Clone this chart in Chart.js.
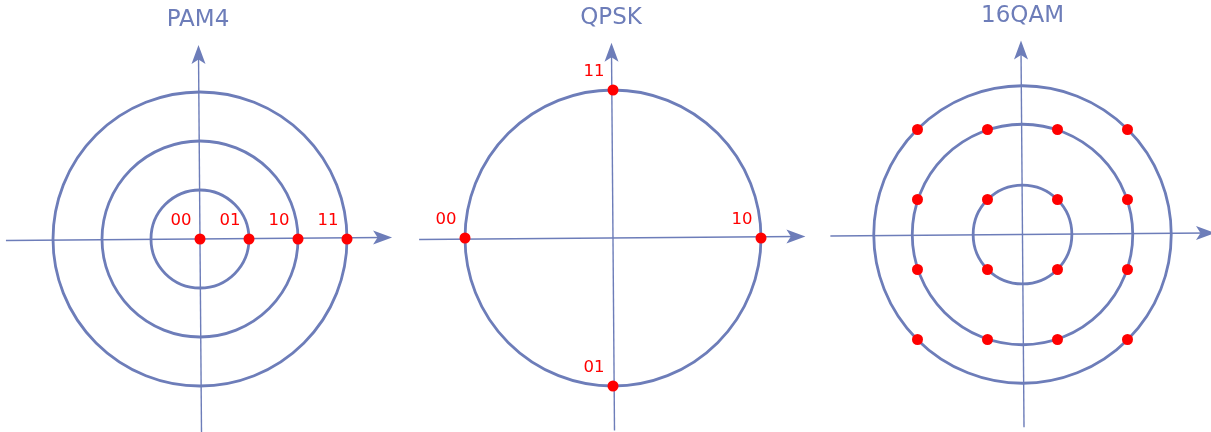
<!DOCTYPE html>
<html>
<head>
<meta charset="utf-8">
<script src="https://cdn.jsdelivr.net/npm/chart.js@4.4.1/dist/chart.umd.min.js"></script>
<style>
  html, body { margin: 0; padding: 0; background: #ffffff; }
  #wrap { position: relative; width: 1211px; height: 432px; overflow: hidden; }
  canvas { position: absolute; top: 0; }
</style>
</head>
<body>
<div id="wrap">
  <canvas id="c1" width="410" height="432" style="left:0px"></canvas>
  <canvas id="c2" width="405" height="432" style="left:410px"></canvas>
  <canvas id="c3" width="396" height="432" style="left:815px"></canvas>
</div>
<script>
// ---------------- DATA ----------------
const titles = ['PAM4', 'QPSK', '16QAM'];

// PAM4: four amplitude levels on the in-phase axis
const pam4I = [0, 1, 2, 3];
const pam4Q = [0, 0, 0, 0];
const pam4Labels = ['00', '01', '10', '11'];
const pam4Rings = [1, 2, 3];

// QPSK: four phases on the unit circle
const qpskI = [-1, 1, 0, 0];
const qpskQ = [0, 0, 1, -1];
const qpskLabels = ['00', '10', '11', '01'];
const qpskRings = [1];

// 16QAM: 4x4 grid of levels
const qamLevelsI = [-3, -1, 1, 3];
const qamLevelsQ = [3, 1, -1, -3];
const qamRings = [1.41, 3.15, 4.25];

// ---------------- STYLE ----------------
const BLUE = '#6d7db9';
const RED = '#ff0000';

function gridPoints(levI, levQ) {
  const pts = [];
  levQ.forEach(q => levI.forEach(i => pts.push({ x: i, y: q })));
  return pts;
}
function zipPoints(xs, ys) { return xs.map((x, k) => ({ x: x, y: ys[k] })); }

function drawArrowHead(ctx, x, y, dir) {
  const len = 19, half = 7, notch = 4.5;
  ctx.save();
  ctx.translate(x, y);
  if (dir === 'up') ctx.rotate(-Math.PI / 2);
  ctx.beginPath();
  ctx.moveTo(0, 0);
  ctx.lineTo(-len, -half);
  ctx.lineTo(-len + notch, 0);
  ctx.lineTo(-len, half);
  ctx.closePath();
  ctx.fillStyle = BLUE;
  ctx.fill();
  ctx.restore();
}

const diagramPlugin = {
  id: 'diagram',
  beforeDatasetsDraw(chart) {
    const o = chart.options.plugins.diagram;
    const ctx = chart.ctx;
    const xs = chart.scales.x, ys = chart.scales.y;
    const cx = xs.getPixelForValue(0), cy = ys.getPixelForValue(0);
    ctx.save();
    ctx.strokeStyle = BLUE;
    ctx.lineWidth = 2.8;
    o.rings.forEach(r => {
      const rp = xs.getPixelForValue(r) - cx;
      ctx.beginPath();
      ctx.arc(cx, cy, rp, 0, Math.PI * 2);
      ctx.stroke();
    });
    ctx.lineWidth = 1.4;
    const x0 = xs.getPixelForValue(o.axisX[0]), x1 = xs.getPixelForValue(o.axisX[1]);
    const y0 = ys.getPixelForValue(o.axisY[0]), y1 = ys.getPixelForValue(o.axisY[1]);
    ctx.beginPath();
    ctx.moveTo(x0, cy + o.tilt);
    ctx.lineTo(x1 - 8, cy - o.tilt);
    ctx.stroke();
    drawArrowHead(ctx, x1, cy - o.tilt, 'right');
    ctx.beginPath();
    ctx.moveTo(cx + o.tilt, y0);
    ctx.lineTo(cx - o.tilt, y1 + 8);
    ctx.stroke();
    drawArrowHead(ctx, cx - o.tilt, y1, 'up');
    ctx.restore();
  },
  afterDatasetsDraw(chart) {
    const o = chart.options.plugins.diagram;
    const ctx = chart.ctx;
    const xs = chart.scales.x, ys = chart.scales.y;
    ctx.save();
    ctx.fillStyle = RED;
    ctx.font = '16.5px "DejaVu Sans"';
    ctx.textAlign = 'center';
    ctx.textBaseline = 'middle';
    const data = chart.data.datasets[0].data;
    (o.labels || []).forEach((t, k) => {
      const px = xs.getPixelForValue(data[k].x), py = ys.getPixelForValue(data[k].y);
      ctx.fillText(t, px - 19, py - 18);
    });
    ctx.fillStyle = BLUE;
    ctx.font = '23px "DejaVu Sans"';
    ctx.fillText(o.title, xs.getPixelForValue(0) + o.titleDx, o.titleY);
    ctx.restore();
  }
};

function makeChart(id, cfg) {
  const cv = document.getElementById(id);
  const W = cv.width, H = cv.height;
  const u = cfg.unit;
  return new Chart(cv, {
    type: 'scatter',
    data: {
      datasets: [{
        data: cfg.points,
        pointRadius: 5.5,
        pointHoverRadius: 5.5,
        pointBackgroundColor: RED,
        pointBorderColor: RED,
        pointBorderWidth: 0,
        showLine: false,
        clip: false
      }]
    },
    options: {
      responsive: false,
      animation: false,
      events: [],
      layout: { padding: 0, autoPadding: false },
      scales: {
        x: { type: 'linear', display: false, min: -cfg.cx / u, max: (W - cfg.cx) / u },
        y: { type: 'linear', display: false, min: -(H - cfg.cy) / u, max: cfg.cy / u }
      },
      plugins: {
        legend: { display: false },
        tooltip: { enabled: false },
        title: { display: false },
        diagram: {
          rings: cfg.rings,
          labels: cfg.labels,
          title: cfg.title,
          titleY: cfg.titleY,
          titleDx: cfg.titleDx,
          axisX: cfg.axisX,
          axisY: cfg.axisY,
          tilt: cfg.tilt
        }
      }
    },
    plugins: [diagramPlugin]
  });
}

makeChart('c1', {
  points: zipPoints(pam4I, pam4Q), labels: pam4Labels, rings: pam4Rings, title: titles[0],
  unit: 49, cx: 200, cy: 239, axisX: [-3.96, 3.92], axisY: [-3.94, 3.96],
  titleY: 20, titleDx: -2, tilt: 1.5
});
makeChart('c2', {
  points: zipPoints(qpskI, qpskQ), labels: qpskLabels, rings: qpskRings, title: titles[1],
  unit: 148, cx: 203, cy: 238, axisX: [-1.31, 1.30], axisY: [-1.30, 1.32],
  titleY: 18, titleDx: -2, tilt: 1.5
});
makeChart('c3', {
  points: gridPoints(qamLevelsI, qamLevelsQ), labels: [], rings: qamRings, title: titles[2],
  unit: 35, cx: 207.5, cy: 234.5, axisX: [-5.49, 5.50], axisY: [-5.51, 5.54],
  titleY: 16, titleDx: 0, tilt: 1.5
});
</script>
</body>
</html>
